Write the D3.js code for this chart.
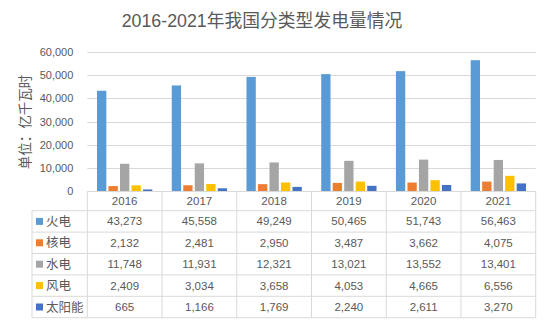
<!DOCTYPE html>
<html><head><meta charset="utf-8">
<script src="https://cdn.jsdelivr.net/npm/d3@7"></script>
<style>
html,body{margin:0;padding:0;background:#fff;}
svg{display:block;}
text{font-family:"Liberation Sans","Noto Sans CJK SC",sans-serif;fill:#595959;}
</style></head>
<body><svg id="c" width="548" height="323"></svg>
<script>
const years = ["2016","2017","2018","2019","2020","2021"];
const seriesNames = ["火电","核电","水电","风电","太阳能"];
const thermal = [43273,45558,49249,50465,51743,56463];
const nuclear = [2132,2481,2950,3487,3662,4075];
const hydro = [11748,11931,12321,13021,13552,13401];
const wind = [2409,3034,3658,4053,4665,6556];
const solar = [665,1166,1769,2240,2611,3270];
const yTicks = [0,10000,20000,30000,40000,50000,60000];
const colors = ["#5B9BD5","#ED7D31","#A5A5A5","#FFC000","#4472C4"];
const values = [thermal,nuclear,hydro,wind,solar];

const svg = d3.select("#c");
const L = 87.3, R = 535.7, Y0 = 191, Y1 = 52;
const x = d3.scaleBand().domain(years).range([L,R]).padding(0);
const x1 = d3.scaleBand().domain(seriesNames).range([0,x.bandwidth()]).paddingInner(0.19).paddingOuter(0.845);
const y = d3.scaleLinear().domain([0,60000]).range([Y0,Y1]);
const fmt = d3.format(",");

// title
svg.append("text").attr("x",262).attr("y",27).attr("text-anchor","middle")
  .style("font-size","17.8px").text("2016-2021年我国分类型发电量情况");

// gridlines
svg.append("g").selectAll("line").data(yTicks.slice(1)).join("line")
  .attr("x1",L).attr("x2",R).attr("y1",d=>Math.round(y(d))+0.5).attr("y2",d=>Math.round(y(d))+0.5)
  .attr("stroke","#d9d9d9").attr("stroke-width",1);

// y axis labels
const ya = svg.append("g").attr("transform",`translate(${L-4},0)`)
  .call(d3.axisLeft(y).tickValues(yTicks).tickFormat(fmt).tickSize(0).tickPadding(10));
ya.select(".domain").remove();
ya.selectAll("text").style("font-size","11px").style("font-family",'"Liberation Sans",sans-serif').attr("fill","#595959");

// y title
svg.append("text").attr("transform","translate(30,122) rotate(-90)").attr("text-anchor","middle")
  .style("font-size","13.5px").text("单位：亿千瓦时");

// bars
seriesNames.forEach((s,i)=>{
  svg.append("g").selectAll("rect").data(years).join("rect")
    .attr("x",d=>x(d)+x1(s)).attr("width",x1.bandwidth())
    .attr("y",(d,j)=>y(values[i][j])).attr("height",(d,j)=>Y0-y(values[i][j]))
    .attr("fill",colors[i]);
});

// table
const T0 = 191.5, H0 = 210.7, RH = 21.4, TL = 32;
const g = svg.append("g").attr("stroke","#d9d9d9").attr("stroke-width",1);
g.append("line").attr("x1",L).attr("x2",R).attr("y1",T0).attr("y2",T0);
const rowYs = d3.range(6).map(i=>H0+i*RH);
g.selectAll(".hl").data(rowYs).join("line").attr("class","hl")
  .attr("x1",TL).attr("x2",R).attr("y1",d=>d).attr("y2",d=>d);
const colXs = years.map(d=>x(d)).concat([R]);
g.selectAll(".vl").data(colXs).join("line").attr("class","vl")
  .attr("x1",d=>d).attr("x2",d=>d).attr("y1",T0).attr("y2",H0+5*RH);
g.append("line").attr("x1",TL).attr("x2",TL).attr("y1",H0).attr("y2",H0+5*RH);

// header text
svg.append("g").selectAll("text").data(years).join("text")
  .attr("x",d=>x(d)+x.bandwidth()/2).attr("y",(T0+H0)/2+4).attr("text-anchor","middle")
  .style("font-size","11.5px").text(d=>d);

// rows
seriesNames.forEach((s,i)=>{
  const cy = H0 + i*RH + RH/2;
  svg.append("rect").attr("x",36).attr("y",cy-3.5).attr("width",7).attr("height",7).attr("fill",colors[i]);
  svg.append("text").attr("x",46).attr("y",cy+4.5).style("font-size","12.5px").text(s);
  svg.append("g").selectAll("text").data(years).join("text")
    .attr("x",d=>x(d)+x.bandwidth()/2).attr("y",cy+4).attr("text-anchor","middle")
    .style("font-size","11.5px").text((d,j)=>fmt(values[i][j]));
});
</script></body></html>
